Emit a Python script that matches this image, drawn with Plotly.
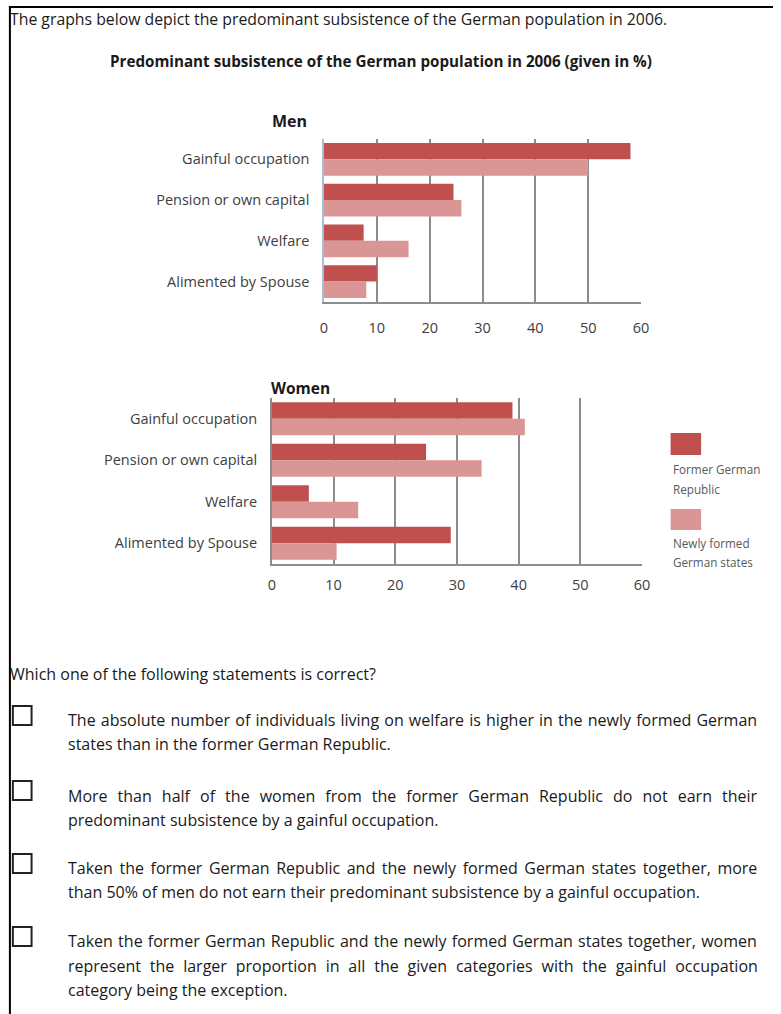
import plotly.graph_objects as go

# ---------------- data ----------------
categories = ["Gainful occupation", "Pension or own capital", "Welfare", "Alimented by Spouse"]
series_names = ["Former German Republic", "Newly formed German states"]
men_former = [58, 24.5, 7.5, 10]
men_new = [50, 26, 16, 8]
women_former = [39, 25, 6, 29]
women_new = [41, 34, 14, 10.5]
x_ticks = [0, 10, 20, 30, 40, 50, 60]

intro_text = "The graphs below depict the predominant subsistence of the German population in 2006."
chart_title = "Predominant subsistence of the German population in 2006 (given in %)"
question = "Which one of the following statements is correct?"
statements = [
    ["The absolute number of individuals living on welfare is higher in the newly formed German",
     "states than in the former German Republic."],
    ["More than half of the women from the former German Republic do not earn their",
     "predominant subsistence by a gainful occupation."],
    ["Taken the former German Republic and the newly formed German states together, more",
     "than 50% of men do not earn their predominant subsistence by a gainful occupation."],
    ["Taken the former German Republic and the newly formed German states together, women",
     "represent the larger proportion in all the given categories with the gainful occupation",
     "category being the exception."],
]

# ---------------- style ----------------
W, H = 781, 1014
DARK = "#C0504D"
LIGHT = "#D99694"
GRID = "#8C8C8C"
BODY_FONT = "Open Sans"
TEXT_COL = "#1a1a1a"
AX_COL = "#404040"
# extra word spacing (px) to emulate justified text for each statement line
word_spacing = [[1.0, 0], [5.9, 0], [2.4, 0], [1.05, 4.7, 0]]


def px(x):
    return x / W


def py(y):
    return 1 - y / H


fig = go.Figure()

for vals, name, col in [(men_former, series_names[0], DARK), (men_new, series_names[1], LIGHT)]:
    fig.add_trace(go.Bar(y=categories, x=vals, orientation="h", name=name,
                         marker=dict(color=col, line=dict(width=0)),
                         xaxis="x", yaxis="y", showlegend=False))
for vals, name, col in [(women_former, series_names[0], DARK), (women_new, series_names[1], LIGHT)]:
    fig.add_trace(go.Bar(y=categories, x=vals, orientation="h", name=name,
                         marker=dict(color=col, line=dict(width=0)),
                         xaxis="x2", yaxis="y2", showlegend=False))

xcommon = dict(range=[0, 60], tickvals=x_ticks, showgrid=True, gridcolor=GRID, gridwidth=1.5,
               zeroline=False, showline=True, linecolor=GRID, linewidth=1.5,
               tickfont=dict(family=BODY_FONT, size=14.5, color=AX_COL), ticks="")
ycommon = dict(categoryorder="array", categoryarray=categories, autorange="reversed",
               showgrid=False, zeroline=False, showline=True, linewidth=1.5, ticks="",
               tickfont=dict(family=BODY_FONT, size=14.5, color=AX_COL))

fig.update_layout(
    width=W, height=H, margin=dict(l=0, r=0, t=0, b=0),
    paper_bgcolor="white", plot_bgcolor="white",
    barmode="group", bargap=0.2, bargroupgap=0,
    showlegend=False,
    xaxis=dict(domain=[px(325), px(647)], anchor="y", ticklabelstandoff=12, **xcommon),
    yaxis=dict(domain=[py(302), py(139)], anchor="x", linecolor="#A7BFDF",
               ticklabelstandoff=10, **ycommon),
    xaxis2=dict(domain=[px(272), px(648)], anchor="y2", ticklabelstandoff=7, **xcommon),
    yaxis2=dict(domain=[py(564), py(398)], anchor="x2", linecolor=GRID,
                ticklabelstandoff=10, **ycommon),
)

ann = []
shapes = []


def text(x, y, s, size=16, bold=False, color=TEXT_COL, anchor="left", family=BODY_FONT, ws=0):
    s = f"<b>{s}</b>" if bold else s
    if ws:
        s = f'<span style="word-spacing:{ws}px">{s}</span>'
    ann.append(dict(x=px(x), y=py(y), xref="paper", yref="paper", text=s,
                    showarrow=False, xanchor=anchor, yanchor="middle",
                    font=dict(family=family, size=size, color=color)))


# page border (top and left)
shapes.append(dict(type="line", xref="paper", yref="paper", x0=px(5), x1=px(781), y0=py(7), y1=py(7),
                   line=dict(color="black", width=2)))
shapes.append(dict(type="line", xref="paper", yref="paper", x0=px(6), x1=px(6), y0=py(7), y1=py(1014),
                   line=dict(color="black", width=2)))

text(4, 19, intro_text, size=15.8)
text(383, 61, chart_title, size=15.2, bold=True, anchor="center")
text(290, 121, "Men", size=16, bold=True, anchor="center")
text(269, 388, "Women", size=15.5, bold=True, anchor="left")

# legend
legend_rows = [(DARK, 433, 455, ["Former German", "Republic"], [469, 489]),
               (LIGHT, 509, 530, ["Newly formed", "German states"], [543, 562])]
for col, y0, y1, lines, ys in legend_rows:
    shapes.append(dict(type="rect", xref="paper", yref="paper", x0=px(677), x1=px(708), y0=py(y1), y1=py(y0),
                       fillcolor=col, line=dict(width=0)))
    for ln, yy in zip(lines, ys):
        text(677, yy, ln, size=11.7, color="#595959")

text(4, 674, question, size=16)

stmt_y = [[720, 744], [796, 820], [868, 892], [941, 966, 990]]
box_y = [706, 781, 854, 927]
for lines, ys, by, wss in zip(statements, stmt_y, box_y, word_spacing):
    shapes.append(dict(type="rect", xref="paper", yref="paper", x0=px(9), x1=px(28), y0=py(by + 19), y1=py(by),
                       line=dict(color="#222222", width=2), fillcolor="rgba(0,0,0,0)"))
    for ln, yy, ws in zip(lines, ys, wss):
        text(63, yy, ln, size=16, ws=ws)

fig.update_layout(annotations=ann, shapes=shapes)
fig.write_html("out.html")
